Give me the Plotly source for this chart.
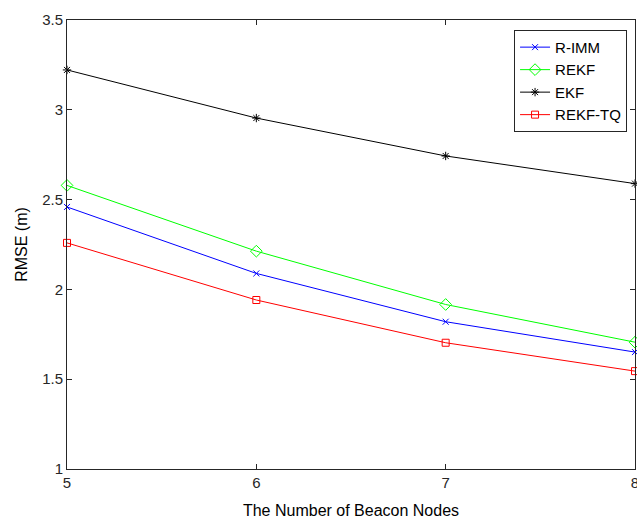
import plotly.graph_objects as go

nodes = [5, 6, 7, 8]
r_imm = [2.459, 2.089, 1.820, 1.651]
rekf = [2.579, 2.213, 1.916, 1.706]
ekf = [3.222, 2.954, 2.743, 2.589]
rekf_tq = [2.259, 1.941, 1.703, 1.545]

x_ticks = [5, 6, 7, 8]
y_ticks = [1, 1.5, 2, 2.5, 3, 3.5]
y_tick_text = ["1", "1.5", "2", "2.5", "3", "3.5"]

series = [
    ("R-IMM", r_imm, "#0000FF", "x-thin-open", 6),
    ("REKF", rekf, "#00FF00", "diamond-open", 9),
    ("EKF", ekf, "#000000", "asterisk-open", 7),
    ("REKF-TQ", rekf_tq, "#FF0000", "square-open", 7),
]

fig = go.Figure()
for name, vals, color, sym, size in series:
    fig.add_trace(go.Scatter(
        x=nodes, y=vals, name=name, mode="lines+markers",
        line=dict(color=color, width=1),
        marker=dict(symbol=sym, size=size, color=color,
                    line=dict(color=color, width=1)),
        cliponaxis=False,
    ))

axis_font = dict(family="Liberation Sans, Arial, sans-serif", size=15, color="#262626")

fig.update_layout(
    width=637, height=523,
    margin=dict(l=67, r=2, t=20, b=54),
    plot_bgcolor="white", paper_bgcolor="white",
    font=axis_font,
    showlegend=True,
    legend=dict(
        x=0.986, y=0.978, xanchor="right", yanchor="top",
        bgcolor="white", bordercolor="#262626", borderwidth=1,
        font=dict(family="Liberation Sans, Arial, sans-serif", size=15, color="#000000"),
        tracegroupgap=0, itemwidth=30,
    ),
    xaxis=dict(
        range=[5, 8], tickvals=x_ticks, ticktext=[str(v) for v in x_ticks],
        showgrid=False, zeroline=False, showline=True, linecolor="#262626",
        linewidth=1, mirror="ticks", ticks="inside", ticklen=5,
        tickcolor="#262626", ticklabeloverflow="allow", automargin=False,
        title=dict(text="The Number of Beacon Nodes", standoff=14,
                   font=dict(size=16, color="#000000")),
    ),
    yaxis=dict(
        range=[1, 3.5], tickvals=y_ticks, ticktext=y_tick_text,
        showgrid=False, zeroline=False, showline=True, linecolor="#262626",
        linewidth=1, mirror="ticks", ticks="inside", ticklen=5,
        tickcolor="#262626", automargin=False,
        title=dict(text="RMSE (m)", standoff=10,
                   font=dict(size=16, color="#000000")),
    ),
)

fig.write_html("out.html")
